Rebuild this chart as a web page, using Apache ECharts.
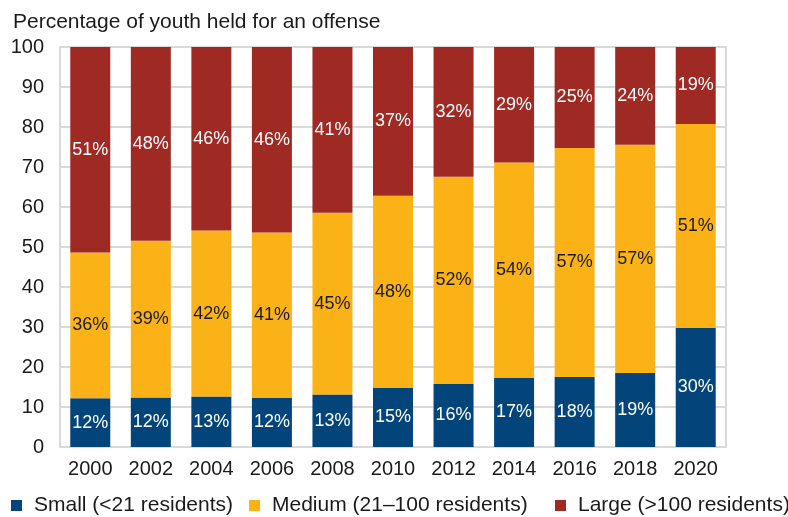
<!DOCTYPE html>
<html>
<head>
<meta charset="utf-8">
<script src="https://cdn.jsdelivr.net/npm/echarts@6/dist/echarts.min.js"></script>
<style>html,body{margin:0;padding:0;background:#fff}#c{width:788px;height:517px}</style>
</head>
<body>
<div id="c"></div>
<script>
var years = ['2000','2002','2004','2006','2008','2010','2012','2014','2016','2018','2020'];
var small  = [12.2, 12.4, 12.6, 12.25, 13.1, 14.75, 15.75, 17.25, 17.5, 18.5, 29.75];
var medium = [36.4, 39.15, 41.5, 41.35, 45.45, 48.05, 51.8, 53.85, 57.25, 57.05, 51.0];
var large  = [51.4, 48.45, 45.9, 46.4, 41.45, 37.2, 32.45, 28.9, 25.25, 24.45, 19.25];
var yTicks = [0,10,20,30,40,50,60,70,80,90,100];
var seriesNames = ['Small (<21 residents)', 'Medium (21\u2013100 residents)', 'Large (>100 residents)'];
var colors = ['#03457b', '#fbb217', '#9f2a23'];
var FONT = '"Liberation Sans", Arial, Helvetica, sans-serif';

var chart = echarts.init(document.getElementById('c'), null, {renderer: 'canvas'});
function mk(name, data, color, labelColor) {
  return {
    name: name, type: 'bar', stack: 'total', data: data, barWidth: 40,
    itemStyle: {color: color},
    label: {show: true, position: 'inside', color: labelColor, fontFamily: FONT, fontSize: 18,
      formatter: function (p) { return Math.round(p.value) + '%'; }},
    emphasis: {disabled: true}
  };
}
function lg(name, left) {
  return {left: left, top: 495, itemWidth: 11, itemHeight: 11, icon: 'rect', padding: 0,
    textStyle: {fontFamily: FONT, fontSize: 21, color: '#1a1a1a', padding: [0,0,0,7]},
    data: [name]};
}
chart.setOption({
  animation: false,
  color: colors,
  title: {text: 'Percentage of youth held for an offense', left: 8, top: 7,
    textStyle: {fontFamily: FONT, fontSize: 21, fontWeight: 'normal', color: '#1a1a1a'}},
  grid: {left: 60, right: 62, top: 47, bottom: 70, show: true, borderColor: '#d9d9d9', borderWidth: 2, containLabel: false},
  xAxis: {type: 'category', data: years,
    axisLine: {show: false}, axisTick: {show: false},
    axisLabel: {fontFamily: FONT, fontSize: 20, color: '#1a1a1a', margin: 12}},
  yAxis: {type: 'value', min: yTicks[0], max: yTicks[yTicks.length-1], interval: 10,
    axisLine: {show: false}, axisTick: {show: false},
    splitLine: {lineStyle: {color: '#d9d9d9', width: 2}},
    axisLabel: {fontFamily: FONT, fontSize: 20, color: '#1a1a1a', margin: 16}},
  legend: [lg(seriesNames[0], 11), lg(seriesNames[1], 249), lg(seriesNames[2], 555)],
  series: [
    mk(seriesNames[0], small, colors[0], '#ffffff'),
    mk(seriesNames[1], medium, colors[1], '#1a1a1a'),
    mk(seriesNames[2], large, colors[2], '#ffffff')
  ]
});
</script>
</body>
</html>
